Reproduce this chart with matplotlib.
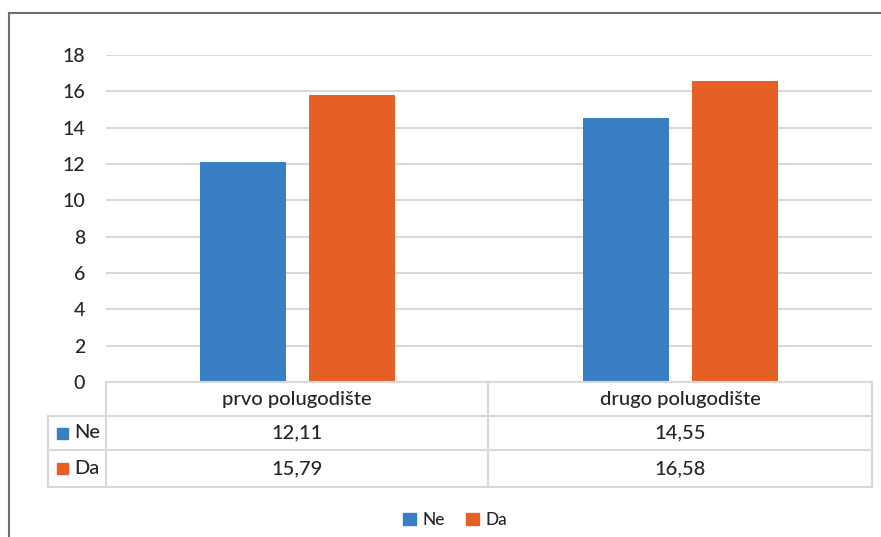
import matplotlib
matplotlib.use("Agg")
import matplotlib.pyplot as plt
from matplotlib.lines import Line2D
from matplotlib.patches import Rectangle

categories = ["prvo polugodište", "drugo polugodište"]
series_names = ["Ne", "Da"]
ne_values = [12.11, 14.55]
da_values = [15.79, 16.58]
value_labels = [["12,11", "14,55"], ["15,79", "16,58"]]
yticks = [0, 2, 4, 6, 8, 10, 12, 14, 16, 18]

W, H = 881, 537
BLUE = "#3A7FC5"
ORANGE = "#E66026"
GRID = "#D9D9D9"
TXT = "#262626"
plt.rcParams["font.family"] = ["Lato", "DejaVu Sans"]
plt.rcParams["font.weight"] = "medium"

fig = plt.figure(figsize=(W / 100, H / 100), dpi=100)

def fx(px):
    return px / W

def fy(py):
    return 1 - py / H

left, right, top, bottom = 106, 872, 55, 382
ax = fig.add_axes([fx(left), fy(bottom), fx(right - left), (bottom - top) / H])
x = list(range(len(categories)))
bw = 86 / 383
off = 54.5 / 383
ax.bar([i - off for i in x], ne_values, width=bw, color=BLUE, zorder=3)
ax.bar([i + off for i in x], da_values, width=bw, color=ORANGE, zorder=3)
ax.set_xlim(-0.5, len(categories) - 0.5)
ax.set_ylim(0, 18)
ax.set_yticks(yticks)
ax.set_yticklabels([str(t) for t in yticks], fontsize=14, color=TXT)
ax.tick_params(axis="y", length=0, pad=15)
ax.set_xticks([])
ax.grid(axis="y", color=GRID, linewidth=1.5, zorder=0)
for s in ax.spines.values():
    s.set_visible(False)

# table
def hline(y, x0, x1):
    fig.add_artist(Line2D([fx(x0), fx(x1)], [fy(y), fy(y)], color=GRID, lw=1.5))

def vline(xp, y0, y1):
    fig.add_artist(Line2D([fx(xp), fx(xp)], [fy(y0), fy(y1)], color=GRID, lw=1.5))

rows_y = [382, 416, 450, 487]
col_x = [48, 106, 488, 872]
hline(382, 106, 872)
for y in rows_y[1:]:
    hline(y, 48, 872)
vline(48, 416, 487)
for xp in col_x[1:]:
    vline(xp, 382, 487)

TFS = 14.5
for j, cat in enumerate(categories):
    cx = (col_x[j + 1] + col_x[j + 2]) / 2
    fig.text(fx(cx), fy(399), cat, ha="center", va="center", fontsize=TFS, color=TXT)
    for i in range(len(series_names)):
        cy = (rows_y[i + 1] + rows_y[i + 2]) / 2
        fig.text(fx(cx), fy(cy), value_labels[i][j], ha="center", va="center", fontsize=TFS, color=TXT)

for i, (name, col) in enumerate(zip(series_names, [BLUE, ORANGE])):
    cy = (rows_y[i + 1] + rows_y[i + 2]) / 2
    fig.add_artist(Rectangle((fx(57), fy(cy + 5.5)), 11 / W, 11 / H, color=col))
    fig.text(fx(74), fy(cy), name, ha="left", va="center", fontsize=TFS, color=TXT)

# legend
handles = [Rectangle((0, 0), 1, 1, color=c) for c in [BLUE, ORANGE]]
fig.legend(handles, series_names, loc="center", bbox_to_anchor=(fx(455), fy(520)),
           ncol=2, frameon=False, fontsize=12.5, handlelength=0.75, handleheight=0.75,
           handletextpad=0.4, columnspacing=1.2, labelcolor=TXT)

# frame
fig.add_artist(Line2D([fx(9), fx(881)], [fy(13), fy(13)], color="#6E6E6E", lw=1.5))
fig.add_artist(Line2D([fx(9), fx(9)], [fy(13), fy(537)], color="#6E6E6E", lw=1.5))

fig.savefig("out.png", dpi=100)
